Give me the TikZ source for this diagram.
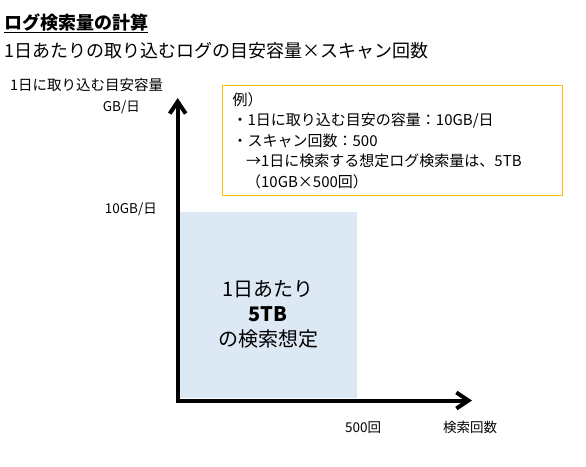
\documentclass[tikz,border=0pt]{standalone}
\usepackage{fontspec}
\setmainfont{Noto Sans CJK JP}
\usetikzlibrary{positioning,arrows.meta,calc}
\definecolor{areablue}{HTML}{DDE8F5}
\definecolor{notegold}{HTML}{FFC000}
\tikzset{
  fig/.style={inner sep=0pt},
  ttl/.style={font=\fontsize{18}{22}\selectfont\bfseries,anchor=base west},
  sub/.style={font=\fontsize{18}{22}\selectfont,anchor=base west},
  lbl/.style={font=\fontsize{13.5}{16}\selectfont},
  axis/.style={line width=4pt,line cap=rect,
               -{Straight Barb[length=12pt,width=16pt]}},
  area/.style={fill=areablue,minimum width=178pt,minimum height=186pt,
               anchor=north west},
  arealbl/.style={font=\fontsize{20}{25}\selectfont,align=center},
  note/.style={draw=notegold,line width=1.3pt,anchor=north west,
               minimum width=340pt,minimum height=110pt,text width=320pt,
               inner xsep=10pt,align=left,
               font=\fontsize{15}{20.5}\selectfont},
}
\begin{document}
\begin{tikzpicture}[fig,x=1pt,y=-1pt]
\useasboundingbox (0,0) rectangle (586,466);

% =======================  heading  =====================
\node[ttl] (title) at (4,29) {\underline{ログ検索量の計算}};
\node[sub] (subtitle) at (4,57) {1日あたりの取り込むログの目安容量×スキャン回数};

% =======================  chart  =======================
\node[area] (area) at (179,212) {};
\node[arealbl] (arealabel) at ($(area.center)+(0,9)$)
     {1日あたり\\\textbf{5TB}\\の検索想定};

\coordinate (O)    at (177.7,400.5);
\coordinate (ytop) at (177.7,98);
\coordinate (xend) at (472,400.5);
\draw[axis] (O) -- (ytop);
\draw[axis] (O) -- (xend);

\node[lbl,font=\fontsize{14.5}{17}\selectfont,anchor=base west] (yname) at (10,90)
     {1日に取り込む目安容量};
\node[lbl,anchor=base east] (yunit) at (140,111) {GB/日};
\node[lbl,anchor=base east] (ytick) at (157,213) {10GB/日};
\node[lbl,anchor=base west] (xtick) at (345,432) {500回};
\node[lbl,anchor=base west] (xname) at (443,432) {検索回数};

% =======================  example note  ================
\node[note] (ex) at (222,85)
     {例）\\
      ・1日に取り込む目安の容量：10GB/日\\
      ・スキャン回数：500\\
      \hspace*{0.9em}→1日に検索する想定ログ検索量は、5TB\\
      \hspace*{0.9em}（10GB×500回）};
\end{tikzpicture}
\end{document}
